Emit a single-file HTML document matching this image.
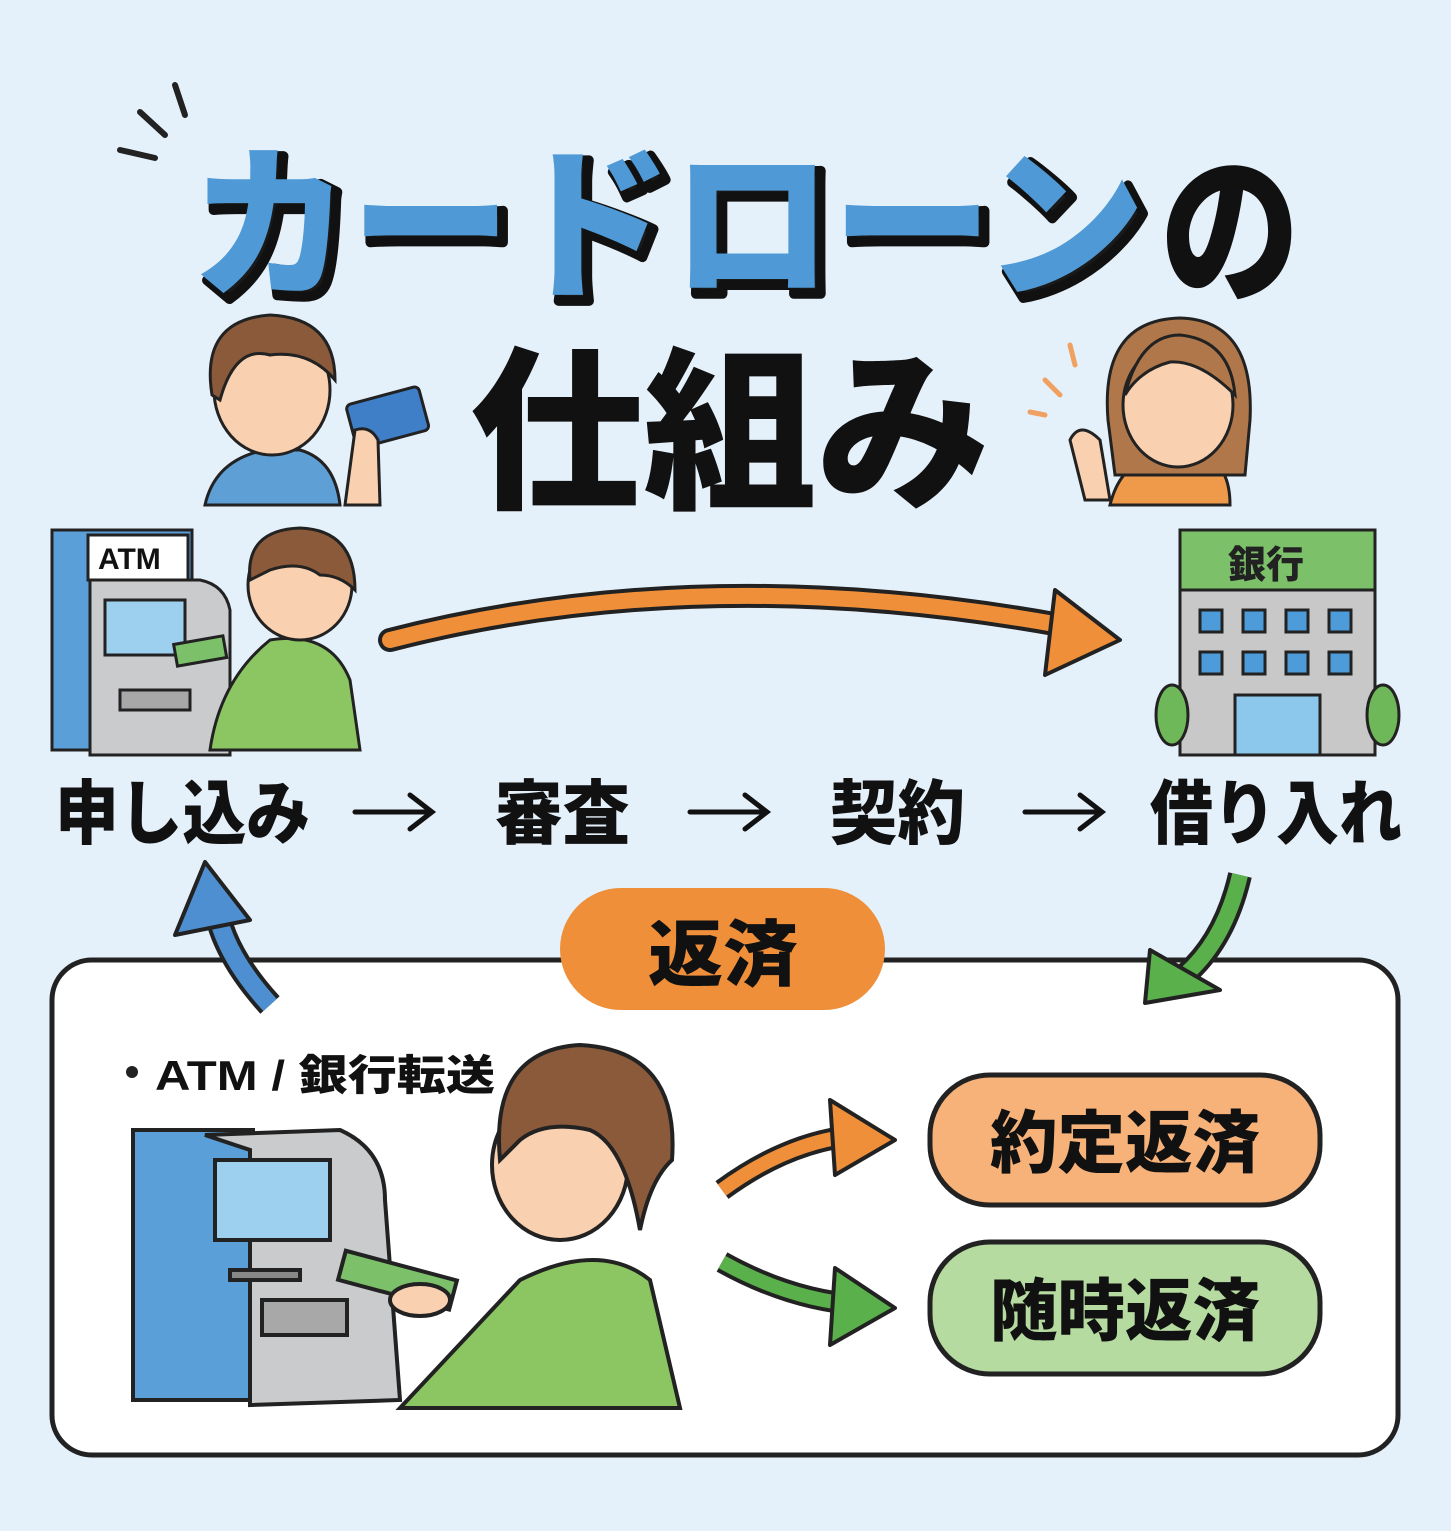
<!DOCTYPE html>
<html><head><meta charset="utf-8"><style>
html,body{margin:0;padding:0;background:#e5f1fa}
svg{display:block}
text{font-family:"Liberation Sans","Noto Sans CJK JP",sans-serif;font-weight:900}
</style></head><body>
<svg width="1451" height="1531" viewBox="0 0 1451 1531" xmlns="http://www.w3.org/2000/svg">
<rect width="1451" height="1531" fill="#e5f1fa"/>
<g stroke="#222" stroke-width="6" stroke-linecap="round">
<line x1="120" y1="150" x2="155" y2="158"/><line x1="140" y1="112" x2="165" y2="135"/><line x1="175" y1="85" x2="185" y2="115"/>
</g>
<text x="196" y="290" font-size="165" fill="#1a1a1a" textLength="955" lengthAdjust="spacingAndGlyphs" stroke="#111" stroke-width="10" stroke-linejoin="round">カードローン</text>
<text x="190" y="284" font-size="165" fill="#4f9ad6" textLength="955" lengthAdjust="spacingAndGlyphs">カードローン</text>
<text x="1160" y="290" font-size="165" fill="#111" textLength="140" lengthAdjust="spacingAndGlyphs">の</text>
<text x="470" y="495" font-size="175" fill="#111" textLength="520" lengthAdjust="spacingAndGlyphs">仕組み</text>
<g stroke="#222" stroke-width="3">
<path d="M205 505 Q215 460 265 450 L300 450 Q335 460 340 505 Z" fill="#5e9fd6"/>
<ellipse cx="272" cy="390" rx="58" ry="65" fill="#fad1b0"/>
<path d="M212 395 Q200 320 270 315 Q335 318 335 380 Q310 350 270 355 Q235 345 220 400Z" fill="#8a5a3a"/>
<rect x="350" y="395" width="75" height="45" rx="5" fill="#3f7fc7" transform="rotate(-15 387 417)"/>
<path d="M345 505 L355 430 Q370 425 378 440 L380 505Z" fill="#fad1b0"/>
</g>
<g stroke="#222" stroke-width="3">
<path d="M1110 505 Q1120 465 1150 460 L1210 460 Q1230 470 1230 505Z" fill="#ef9a4a"/>
<path d="M1108 420 Q1100 320 1180 318 Q1255 320 1250 420 L1245 475 L1115 475Z" fill="#b0784a"/>
<ellipse cx="1178" cy="405" rx="55" ry="62" fill="#fad1b0"/>
<path d="M1125 395 Q1140 335 1180 335 Q1230 340 1235 395 Q1200 360 1170 362 Q1140 370 1125 395Z" fill="#b0784a"/>
<path d="M1070 440 Q1080 420 1100 440 L1110 500 L1085 500Z" fill="#fad1b0"/>
</g>
<g stroke="#f0a060" stroke-width="5" stroke-linecap="round"><line x1="1045" y1="380" x2="1060" y2="395"/><line x1="1070" y1="345" x2="1075" y2="365"/><line x1="1030" y1="412" x2="1045" y2="415"/></g>
<g stroke="#222" stroke-width="3">
<rect x="52" y="530" width="140" height="220" fill="#5b9fd8"/>
<rect x="88" y="535" width="100" height="45" fill="#fff"/>
<path d="M90 580 L90 755 L230 755 L230 610 Q225 585 200 580Z" fill="#c9cbcd"/>
<rect x="105" y="600" width="80" height="55" fill="#9dd0ee"/>
<rect x="120" y="690" width="70" height="20" fill="#a8a8a8"/>
</g>
<text x="98" y="569" font-size="30" fill="#111">ATM</text>
<g stroke="#222" stroke-width="3">
<path d="M210 750 Q220 680 270 640 Q330 630 350 680 L360 750Z" fill="#8cc662"/>
<ellipse cx="300" cy="585" rx="52" ry="55" fill="#fad1b0"/>
<path d="M250 580 Q245 530 300 528 Q355 530 355 590 Q340 575 320 575 Q300 560 270 570Z" fill="#8a5a3a"/>
<rect x="175" y="640" width="50" height="22" fill="#7cc06a" transform="rotate(-10 200 650)"/>
</g>
<g stroke="#222" stroke-width="3">
<rect x="1180" y="530" width="195" height="60" fill="#7cc06a"/>
<rect x="1180" y="590" width="195" height="165" fill="#c8c8c8"/>
<g fill="#4d9bd8"><rect x="1200" y="610" width="22" height="22"/><rect x="1243" y="610" width="22" height="22"/><rect x="1286" y="610" width="22" height="22"/><rect x="1329" y="610" width="22" height="22"/><rect x="1200" y="652" width="22" height="22"/><rect x="1243" y="652" width="22" height="22"/><rect x="1286" y="652" width="22" height="22"/><rect x="1329" y="652" width="22" height="22"/></g>
<rect x="1235" y="695" width="85" height="60" fill="#8cc8ec"/>
<ellipse cx="1172" cy="715" rx="16" ry="30" fill="#6fb85a"/><ellipse cx="1383" cy="715" rx="16" ry="30" fill="#6fb85a"/>
</g>
<text x="1228" y="578" font-size="38" fill="#222">銀行</text>
<path d="M390 640 Q700 560 1060 625" stroke="#222" stroke-width="24" fill="none" stroke-linecap="round"/>
<path d="M390 640 Q700 560 1060 625" stroke="#ef8f3a" stroke-width="16" fill="none" stroke-linecap="round"/>
<path d="M1055 590 L1120 640 L1045 675 Z" fill="#ef8f3a" stroke="#222" stroke-width="4" stroke-linejoin="round"/>
<g font-size="70" fill="#111">
<text x="55" y="838" textLength="255" lengthAdjust="spacingAndGlyphs">申し込み</text>
<text x="495" y="838" textLength="135" lengthAdjust="spacingAndGlyphs">審査</text>
<text x="830" y="838" textLength="135" lengthAdjust="spacingAndGlyphs">契約</text>
<text x="1150" y="838" textLength="252" lengthAdjust="spacingAndGlyphs">借り入れ</text>
</g>
<g stroke="#111" stroke-width="5" fill="none" stroke-linecap="round">
<path d="M355 812 H430 M410 795 L432 812 L410 829"/>
<path d="M690 812 H765 M745 795 L767 812 L745 829"/>
<path d="M1025 812 H1100 M1080 795 L1102 812 L1080 829"/>
</g>
<rect x="52" y="960" width="1346" height="495" rx="40" fill="#fff" stroke="#222" stroke-width="5"/>
<path d="M270 1005 Q220 950 215 900" stroke="#222" stroke-width="26" fill="none"/>
<path d="M270 1005 Q220 950 215 900" stroke="#4d8fd0" stroke-width="18" fill="none"/>
<path d="M175 935 L205 862 L250 920 Z" fill="#4d8fd0" stroke="#222" stroke-width="4" stroke-linejoin="round"/>
<path d="M1240 875 Q1225 940 1185 975" stroke="#222" stroke-width="24" fill="none"/>
<path d="M1240 875 Q1225 940 1185 975" stroke="#5ab04a" stroke-width="16" fill="none"/>
<path d="M1150 950 L1145 1003 L1220 990 Z" fill="#5ab04a" stroke="#222" stroke-width="4" stroke-linejoin="round"/>
<rect x="560" y="888" width="325" height="122" rx="61" fill="#ef8f3a"/>
<text x="648" y="980" font-size="72" fill="#111" textLength="150" lengthAdjust="spacingAndGlyphs">返済</text>
<circle cx="132" cy="1072" r="6" fill="#222"/>
<text x="155" y="1090" font-size="42" fill="#111" textLength="340" lengthAdjust="spacingAndGlyphs">ATM / 銀行転送</text>
<g stroke="#222" stroke-width="4">
<rect x="133" y="1130" width="120" height="270" fill="#5b9fd8"/>
<path d="M205 1135 L340 1130 Q385 1150 385 1200 L400 1400 L250 1405 L250 1150Z" fill="#c9cbcd"/>
<rect x="215" y="1160" width="115" height="80" fill="#9dd0ee"/>
<rect x="262" y="1300" width="85" height="35" fill="#a8a8a8"/>
<rect x="230" y="1270" width="70" height="10" fill="#888"/>
</g>
<g stroke="#222" stroke-width="4">
<path d="M400 1408 L520 1280 Q600 1240 650 1280 L680 1408Z" fill="#8cc662"/>
<ellipse cx="560" cy="1165" rx="68" ry="75" fill="#fad1b0"/>
<path d="M500 1160 Q490 1050 580 1045 Q680 1050 672 1160 Q650 1180 640 1230 Q625 1145 590 1130 Q545 1120 520 1140Z" fill="#8a5a3a"/>
<rect x="340" y="1265" width="115" height="30" fill="#7cc06a" transform="rotate(15 397 1280)"/>
<ellipse cx="420" cy="1300" rx="30" ry="16" fill="#fad1b0"/>
</g>
<path d="M722 1190 Q790 1140 860 1135" stroke="#222" stroke-width="22" fill="none"/>
<path d="M722 1190 Q790 1140 860 1135" stroke="#ef8f3a" stroke-width="14" fill="none"/>
<path d="M830 1100 L895 1140 L835 1175 Z" fill="#ef8f3a" stroke="#222" stroke-width="4" stroke-linejoin="round"/>
<path d="M722 1262 Q790 1300 860 1305" stroke="#222" stroke-width="22" fill="none"/>
<path d="M722 1262 Q790 1300 860 1305" stroke="#5ab04a" stroke-width="14" fill="none"/>
<path d="M835 1268 L895 1308 L830 1345 Z" fill="#5ab04a" stroke="#222" stroke-width="4" stroke-linejoin="round"/>
<rect x="930" y="1075" width="390" height="130" rx="60" fill="#f7b27a" stroke="#222" stroke-width="5"/>
<text x="990" y="1167" font-size="68" fill="#111" textLength="270" lengthAdjust="spacingAndGlyphs">約定返済</text>
<rect x="930" y="1242" width="390" height="132" rx="60" fill="#b5dba0" stroke="#222" stroke-width="5"/>
<text x="990" y="1335" font-size="68" fill="#111" textLength="270" lengthAdjust="spacingAndGlyphs">随時返済</text>
</svg>
</body></html>
